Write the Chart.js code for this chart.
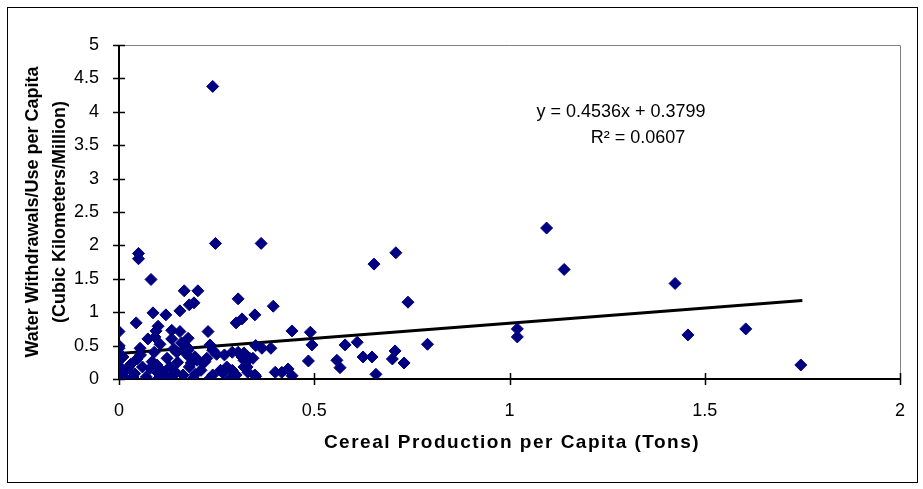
<!DOCTYPE html>
<html>
<head>
<meta charset="utf-8">
<script src="https://cdn.jsdelivr.net/npm/chart.js@4"></script>
<style>
  html, body { margin: 0; padding: 0; background: #fff; }
  #wrap { width: 923px; height: 489px; }
</style>
</head>
<body>
<div id="wrap"><canvas id="chart" width="923" height="489"></canvas></div>
<script>
// Cereal production per capita (tons) vs water withdrawals per capita
const cerealTons = [
  0.00, 0.00, 0.00, 0.01, 0.00, 0.00, 0.00, 0.00, 0.01, 0.02,
  0.03, 0.036, 0.046, 0.044, 0.054, 0.05, 0.05, 0.04, 0.06, 0.055,
  0.07, 0.074, 0.082, 0.087, 0.08, 0.092, 0.095, 0.10, 0.10, 0.097, 0.09, 0.085, 0.10, 0.11, 0.105,
  0.12, 0.123, 0.135, 0.135, 0.135, 0.13, 0.14, 0.148, 0.145, 0.15, 0.12,
  0.156, 0.16, 0.156, 0.164, 0.167, 0.174, 0.177, 0.177, 0.17, 0.18, 0.18, 0.18, 0.192, 0.195, 0.195, 0.20, 0.202, 0.19, 0.185,
  0.21, 0.215, 0.225, 0.228, 0.233, 0.233, 0.24, 0.24, 0.24, 0.247, 0.26, 0.266, 0.22, 0.25,
  0.27, 0.276, 0.284, 0.29, 0.29, 0.30, 0.30, 0.305, 0.305, 0.315,
  0.315, 0.32, 0.32, 0.32, 0.328, 0.33, 0.335, 0.343, 0.348, 0.348, 0.35, 0.364, 0.366, 0.35,
  0.389, 0.395, 0.40, 0.417, 0.433, 0.443, 0.443, 0.485, 0.49, 0.494,
  0.558, 0.566, 0.579, 0.61, 0.625, 0.648, 0.653, 0.658, 0.70, 0.707, 0.709, 0.73, 0.74, 0.79,
  1.02, 1.02, 1.095, 1.14, 1.424, 1.457, 1.605, 1.746
];
const waterUse = [
  0.71, 0.50, 0.46, 0.33, 0.28, 0.20, 0.10, 0.01, 0.04, 0.14,
  0.22, 0.03, 0.30, 0.84, 0.46, 1.88, 1.80, 0.08, 0.18, 0.36,
  0.03, 0.60, 1.49, 0.99, 0.16, 0.63, 0.72, 0.79, 0.09, 0.21, 0.40, 0.26, 0.00, 0.12, 0.52,
  0.96, 0.31, 0.73, 0.60, 0.03, 0.18, 0.45, 0.40, 0.10, 0.25, 0.05,
  1.02, 0.54, 0.71, 0.06, 1.32, 0.48, 0.61, 0.43, 0.39, 1.11, 0.33, 0.18, 1.14, 0.07, 0.33, 0.28, 1.32, 0.01, 0.24,
  0.13, 0.24, 0.31, 0.71, 0.51, 0.01, 0.43, 0.06, 4.38, 2.03, 0.13, 0.09, 0.26, 0.37,
  0.36, 0.18, 0.00, 0.40, 0.13, 0.84, 0.06, 1.20, 0.40, 0.90,
  0.33, 0.39, 0.28, 0.18, 0.18, 0.10, 0.31, 0.31, 0.96, 0.06, 0.04, 2.03, 0.46, 0.50,
  0.46, 1.09, 0.10, 0.10, 0.15, 0.72, 0.05, 0.27, 0.70, 0.51,
  0.28, 0.17, 0.51, 0.55, 0.33, 0.33, 1.72, 0.07, 0.30, 0.42, 1.89, 0.24, 1.15, 0.52,
  0.75, 0.63, 2.26, 1.64, 1.43, 0.66, 0.75, 0.21
];

// linear trend line end points
const trendX = [0, 1.75];
const trendY = [0.38, 1.174];

const xTicks = [0, 0.5, 1, 1.5, 2];
const yTicks = [0, 0.5, 1, 1.5, 2, 2.5, 3, 3.5, 4, 4.5, 5];

const equationText = 'y = 0.4536x + 0.3799';
const rSquaredText = 'R² = 0.0607';
const xTitle = 'Cereal Production per Capita (Tons)';

const FONT = '"Liberation Sans", Arial, sans-serif';

const points = cerealTons.map((x, i) => ({ x: x, y: waterUse[i] }));
const trend = trendX.map((x, i) => ({ x: x, y: trendY[i] }));

// axes with crossing tick marks, plot border, outer frame, labels
const framePlugin = {
  id: 'frame',
  beforeDatasetsDraw(chart) {
    const { ctx, chartArea: a, scales } = chart;
    ctx.save();
    ctx.strokeStyle = '#808080';
    ctx.lineWidth = 1;
    ctx.beginPath();
    ctx.moveTo(a.left, Math.round(a.top) + 0.5);
    ctx.lineTo(Math.round(a.right) + 0.5, Math.round(a.top) + 0.5);
    ctx.lineTo(Math.round(a.right) + 0.5, a.bottom);
    ctx.stroke();

    ctx.strokeStyle = '#000';
    ctx.lineWidth = 2;
    ctx.beginPath();
    ctx.moveTo(a.left, a.top);
    ctx.lineTo(a.left, a.bottom);
    ctx.lineTo(a.right, a.bottom);
    ctx.stroke();

    ctx.lineWidth = 1.5;
    ctx.beginPath();
    yTicks.forEach(v => {
      const py = Math.round(scales.y.getPixelForValue(v)) + 0.5;
      ctx.moveTo(a.left - 6, py);
      ctx.lineTo(a.left + 6, py);
    });
    xTicks.forEach(v => {
      const px = Math.round(scales.x.getPixelForValue(v)) + 0.5;
      ctx.moveTo(px, a.bottom - 6);
      ctx.lineTo(px, a.bottom + 6);
    });
    ctx.stroke();
    ctx.restore();
  },
  afterDraw(chart) {
    const { ctx } = chart;
    ctx.save();
    ctx.strokeStyle = '#000';
    ctx.lineWidth = 1;
    ctx.strokeRect(7.5, 7.5, 910, 475);

    ctx.fillStyle = '#000';
    ctx.textBaseline = 'middle';
    ctx.textAlign = 'center';
    ctx.font = '18px ' + FONT;
    ctx.fillText(equationText, 621, 112);
    ctx.fillText(rSquaredText, 638, 138);

    // x axis title, spaced out like the original
    ctx.font = 'bold 19px ' + FONT;
    ctx.letterSpacing = '1.5px';
    ctx.fillText(xTitle, 512, 443);
    ctx.restore();
  }
};

const tickLabel = v => String(v);

new Chart(document.getElementById('chart'), {
  type: 'scatter',
  data: {
    datasets: [
      {
        label: 'Countries',
        data: points,
        pointStyle: 'rectRot',
        pointRadius: 6,
        backgroundColor: '#000080',
        borderColor: '#000080',
        borderWidth: 1
      },
      {
        label: 'Linear trend',
        type: 'line',
        data: trend,
        borderColor: '#000',
        borderWidth: 3,
        pointRadius: 0,
        fill: false
      }
    ]
  },
  options: {
    responsive: false,
    animation: false,
    layout: { padding: { left: 0, right: 23, top: 45, bottom: 0 } },
    plugins: {
      legend: { display: false },
      tooltip: { enabled: false }
    },
    scales: {
      x: {
        type: 'linear',
        min: 0,
        max: 2,
        afterBuildTicks: s => { s.ticks = xTicks.map(v => ({ value: v })); },
        afterFit: s => { s.height = 110; },
        grid: { display: false },
        border: { display: false },
        ticks: { color: '#000', font: { family: FONT, size: 18 }, padding: 13, maxRotation: 0, callback: tickLabel }
      },
      y: {
        type: 'linear',
        min: 0,
        max: 5,
        afterBuildTicks: s => { s.ticks = yTicks.map(v => ({ value: v })); },
        afterFit: s => { s.width = 119; },
        grid: { display: false },
        border: { display: false },
        ticks: { color: '#000', font: { family: FONT, size: 18 }, padding: 12, callback: tickLabel },
        title: {
          display: true,
          text: ['Water Withdrawals/Use per Capita', '(Cubic Kilometers/Million)'],
          color: '#000',
          font: { family: FONT, size: 18, weight: 'bold', lineHeight: 1.5 },
          padding: { top: 20 }
        }
      }
    }
  },
  plugins: [framePlugin]
});
</script>
</body>
</html>
